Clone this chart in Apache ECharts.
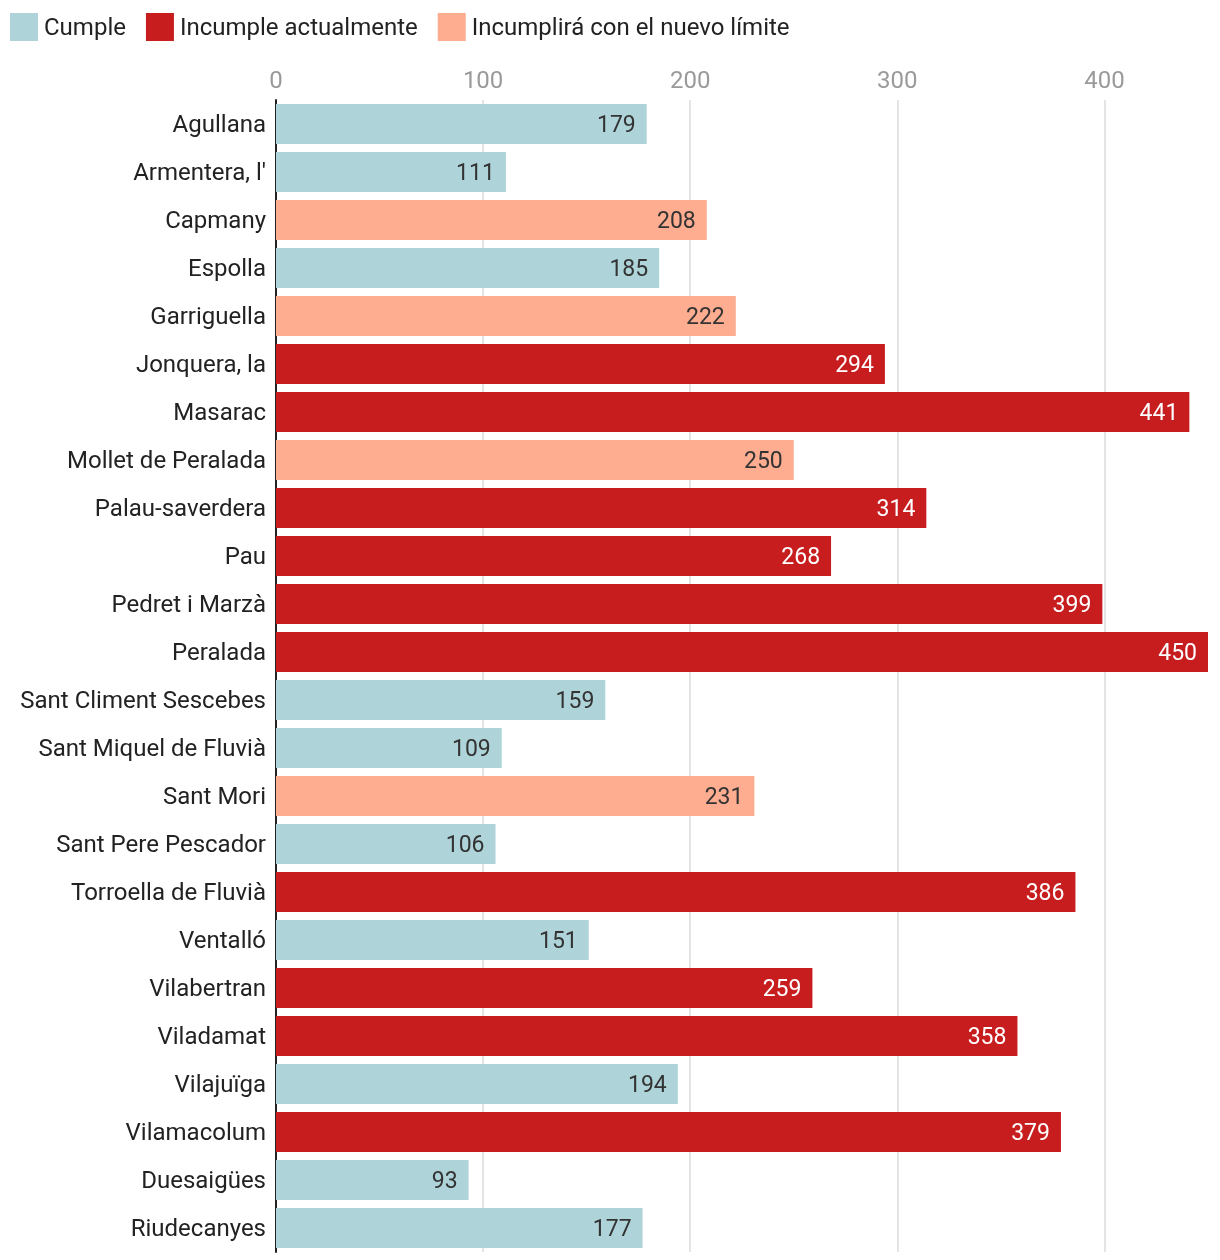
<!DOCTYPE html>
<html>
<head>
<meta charset="utf-8">
<script src="https://cdn.jsdelivr.net/npm/echarts@6/dist/echarts.min.js"></script>
<style>html,body{margin:0;padding:0;background:#fff}#c{width:1220px;height:1260px}</style>
</head>
<body>
<div id="c"></div>
<script>
const categories = ["Agullana","Armentera, l'","Capmany","Espolla","Garriguella","Jonquera, la","Masarac","Mollet de Peralada","Palau-saverdera","Pau","Pedret i Marzà","Peralada","Sant Climent Sescebes","Sant Miquel de Fluvià","Sant Mori","Sant Pere Pescador","Torroella de Fluvià","Ventalló","Vilabertran","Viladamat","Vilajuïga","Vilamacolum","Duesaigües","Riudecanyes"];
const values = [179,111,208,185,222,294,441,250,314,268,399,450,159,109,231,106,386,151,259,358,194,379,93,177];
// 0 = Cumple, 1 = Incumple actualmente, 2 = Incumplirá con el nuevo límite
const status = [0,0,2,0,2,1,1,2,1,1,1,1,0,0,2,0,1,0,1,1,0,1,0,0];
const seriesNames = ["Cumple","Incumple actualmente","Incumplirá con el nuevo límite"];
const xTicks = [0,100,200,300,400];

const colors = ["#aed4d9","#c81d1e","#ffad90"];
const labelColors = ["#333333","#ffffff","#333333"];
const font = "Roboto, 'Noto Sans', sans-serif";

const series = seriesNames.map((name, s) => ({
  name: name,
  type: 'bar',
  stack: 'all',
  barCategoryGap: '16.7%',
  itemStyle: { color: colors[s] },
  label: {
    show: true,
    position: 'insideRight',
    distance: 11,
    offset: [0, 2],
    color: labelColors[s],
    fontFamily: font,
    fontSize: 23
  },
  emphasis: { disabled: true },
  data: values.map((v, i) => status[i] === s ? v : '-')
}));

const chart = echarts.init(document.getElementById('c'), null, { renderer: 'canvas' });
chart.setOption({
  animation: false,
  color: colors,
  textStyle: { fontFamily: font },
  legend: {
    left: 10,
    top: 13,
    padding: 0,
    itemWidth: 28,
    itemHeight: 28,
    itemGap: 20,
    icon: 'rect',
    selectedMode: false,
    formatter: '{t|{name}}',
    textStyle: {
      fontSize: 24, color: '#222', fontFamily: font,
      rich: { t: { fontSize: 24, color: '#222', fontFamily: font, padding: [4, 0, 0, 1] } }
    },
    data: seriesNames
  },
  grid: { left: 276, right: 12, top: 100, bottom: 8, containLabel: false },
  xAxis: {
    type: 'value',
    position: 'top',
    min: 0,
    max: 450,
    interval: 100,
    axisLine: { show: false },
    axisTick: { show: false },
    axisLabel: {
      color: '#9a9a9a',
      fontSize: 24,
      fontFamily: font,
      margin: 6,
      showMaxLabel: false,
      formatter: v => xTicks.includes(v) ? String(v) : ''
    },
    splitLine: { show: true, showMaxLine: false, lineStyle: { color: '#e4e4e4', width: 2 } }
  },
  yAxis: {
    type: 'category',
    inverse: true,
    data: categories,
    axisLine: { show: true, lineStyle: { color: '#222', width: 2 } },
    axisTick: { show: false },
    axisLabel: {
      color: '#222', fontSize: 24, fontFamily: font, margin: 10,
      formatter: v => '{t|' + v + '}',
      rich: { t: { fontSize: 24, color: '#222', fontFamily: font, padding: [4, 0, 0, 0] } }
    }
  },
  series: series
});
</script>
</body>
</html>
